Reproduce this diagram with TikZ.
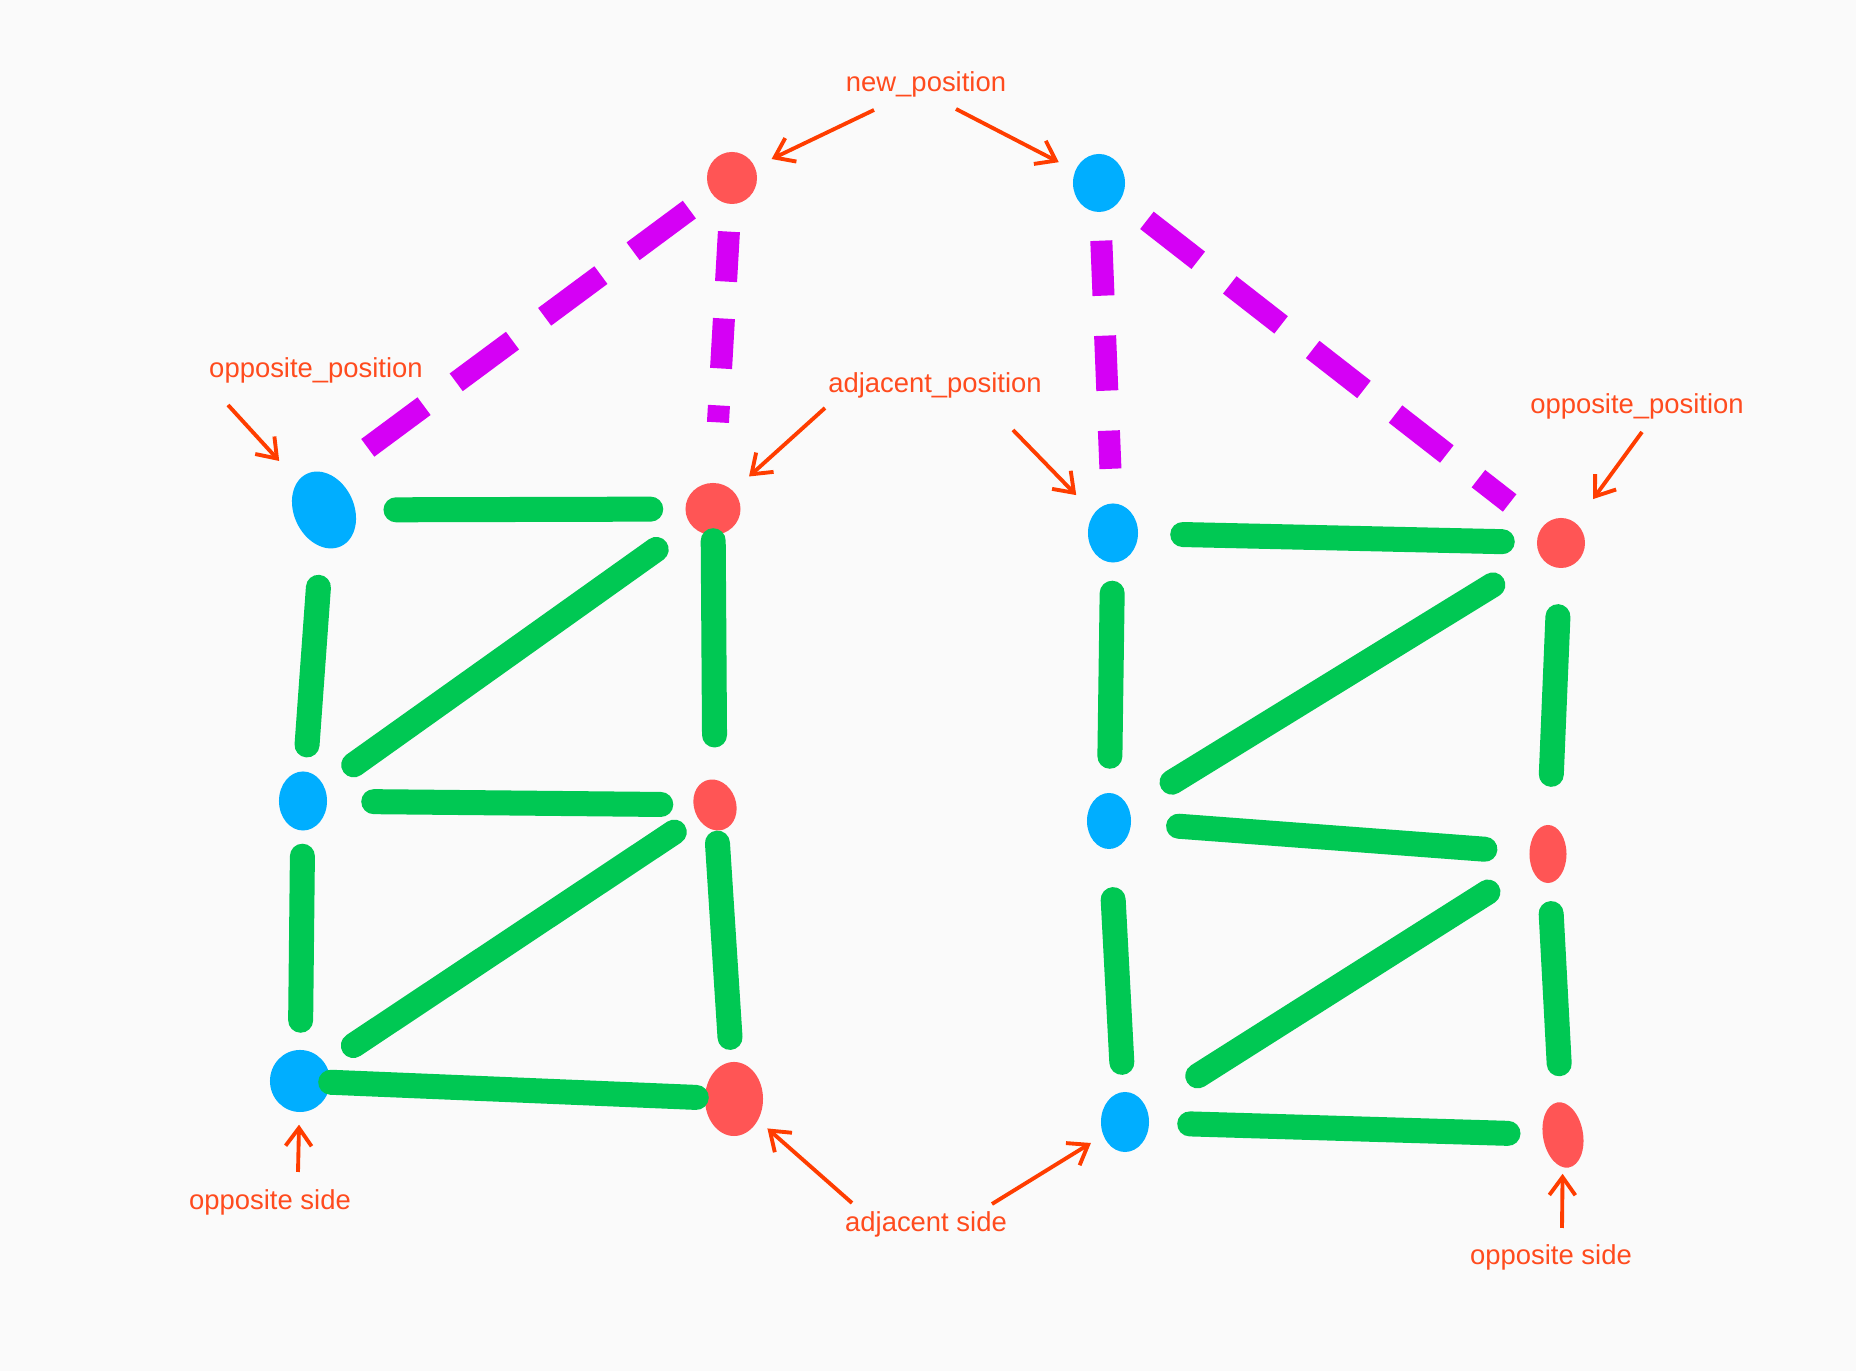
\documentclass[tikz,border=0pt]{standalone}
\usepackage{fontspec}
\setmainfont{Liberation Sans}
\usepackage{xcolor}
\usepackage{tikz}
\usetikzlibrary{arrows.meta, shapes.geometric}

\definecolor{paper}{RGB}{250,250,250}
\definecolor{dotred}{RGB}{255,85,85}
\definecolor{dotblue}{RGB}{0,174,255}
\definecolor{inkgreen}{RGB}{0,200,83}
\definecolor{inkmagenta}{RGB}{213,0,245}
\definecolor{pointred}{RGB}{255,61,0}
\definecolor{labelred}{RGB}{255,75,30}

\begin{document}
\begin{tikzpicture}[x=0.01cm, y=-0.01cm, >={Straight Barb[length=1.8mm, width=2.6mm]},
    spot/.style={ellipse, inner sep=0pt},
    red spot/.style={spot, fill=dotred},
    blue spot/.style={spot, fill=dotblue},
    link/.style={draw=inkgreen, line width=2.5mm, line cap=round},
    dashlink/.style={draw=inkmagenta, line width=2.2mm},
    pointer/.style={->, draw=pointred, line width=1.1pt},
    tag/.style={text=labelred, font=\fontsize{7.8}{9}\selectfont, inner sep=0pt}]
    \fill[paper] (0,0) rectangle (1856,1371);

    % left triangle stack
    \node[red spot, minimum width=5mm, minimum height=5.2mm] (lnew) at (732,178) {};
    \node[blue spot, minimum width=6mm, minimum height=8mm, rotate=25] (lb1) at (324,510) {};
    \node[red spot, minimum width=5.5mm, minimum height=5.2mm] (lr1) at (713,509) {};
    \node[blue spot, minimum width=4.8mm, minimum height=5.9mm] (lb2) at (303,801) {};
    \node[red spot, minimum width=4.2mm, minimum height=5.2mm, rotate=20] (lr2) at (715,805) {};
    \node[blue spot, minimum width=6mm, minimum height=6.2mm] (lb3) at (300,1081) {};
    \node[red spot, minimum width=5.8mm, minimum height=7.4mm] (lr3) at (734,1099) {};

    % right triangle stack
    \node[blue spot, minimum width=5.2mm, minimum height=5.8mm] (rnew) at (1099,183) {};
    \node[blue spot, minimum width=5mm, minimum height=5.9mm] (rb1) at (1113,533) {};
    \node[red spot, minimum width=4.8mm, minimum height=5mm] (rr1) at (1561,543) {};
    \node[blue spot, minimum width=4.4mm, minimum height=5.6mm] (rb2) at (1109,821) {};
    \node[red spot, minimum width=3.7mm, minimum height=5.8mm] (rr2) at (1548,854) {};
    \node[blue spot, minimum width=4.8mm, minimum height=6mm] (rb3) at (1125,1122) {};
    \node[red spot, minimum width=4mm, minimum height=6.6mm, rotate=10] (rr3) at (1563,1135) {};

    \draw[dashlink, dash pattern=on 7mm off 4mm, shorten <=2.7mm, shorten >=4mm] (lnew) -- (lb1.north east);
    \draw[dashlink, dash pattern=on 5mm off 3.7mm, shorten <=2.7mm, shorten >=6mm] (lnew) -- (lr1);
    \draw[dashlink, dash pattern=on 6.5mm off 4mm, shorten <=3.3mm, shorten >=4mm] (rnew) -- (rr1);
    \draw[dashlink, dash pattern=on 5.5mm off 4mm, shorten <=2.8mm, shorten >=3.4mm] (rnew) -- (rb1);

    \draw[link, shorten <=4mm, shorten >=3.4mm] (lb1) -- (lr1);
    \draw[link, shorten <=4.2mm, shorten >=3.6mm] (lr1) -- (lb2);
    \draw[link, shorten <=4mm, shorten >=2.6mm] (lb1) -- (lb2);
    \draw[link, shorten <=0.5mm, shorten >=4.4mm] (lr1) -- (lr2);
    \draw[link, shorten <=4.6mm, shorten >=3.2mm] (lb2) -- (lr2);
    \draw[link, shorten <=2.7mm, shorten >=3.3mm] (lr2) -- (lb3);
    \draw[link, shorten <=2.5mm, shorten >=2.9mm] (lb2) -- (lb3);
    \draw[link, shorten <=1.2mm, shorten >=2.4mm] (lr2) -- (lr3);
    \draw[link, shorten >=0.8mm] (lb3) -- (lr3);

    \draw[link, shorten <=4.4mm, shorten >=3.4mm] (rb1) -- (rr1);
    \draw[link, shorten <=4.8mm, shorten >=5mm] (rr1) -- (rr2);
    \draw[link, shorten <=5.5mm, shorten >=5mm] (rr1) -- (rb2);
    \draw[link, shorten <=3mm, shorten >=3.6mm] (rb1) -- (rb2);
    \draw[link, shorten <=4.7mm, shorten >=4.4mm] (rb2) -- (rr2);
    \draw[link, shorten <=5mm, shorten >=2.9mm] (rb2) -- (rb3);
    \draw[link, shorten <=5mm, shorten >=6mm] (rr2) -- (rb3);
    \draw[link, shorten <=3mm, shorten >=3.8mm] (rr2) -- (rr3);
    \draw[link, shorten <=4mm, shorten >=3.4mm] (rb3) -- (rr3);

    \node[tag] (newpos) at (926,84) {new\_position};
    \node[tag] (oppposl) at (316,370) {opposite\_position};
    \node[tag] (adjpos) at (935,385) {adjacent\_position};
    \node[tag] (oppposr) at (1637,406) {opposite\_position};
    \node[tag] (oppsidel) at (270,1202) {opposite side};
    \node[tag] (adjside) at (926,1224) {adjacent side};
    \node[tag] (oppsider) at (1551,1257) {opposite side};

    \coordinate (newpos-l) at (874,110);
    \coordinate (newpos-r) at (956,109);
    \coordinate (oppposl-s) at (228,405);
    \coordinate (adjpos-l) at (825,408);
    \coordinate (adjpos-r) at (1013,430);
    \coordinate (oppposr-s) at (1642,432);
    \coordinate (oppsidel-s) at (298,1172);
    \coordinate (adjside-l) at (852,1203);
    \coordinate (adjside-r) at (992,1204);
    \coordinate (oppsider-s) at (1562,1228);

    \draw[pointer, shorten >=1.8mm] (newpos-l) -- (lnew);
    \draw[pointer, shorten >=1.8mm] (newpos-r) -- (rnew);
    \draw[pointer, shorten >=2.7mm] (oppposl-s) -- (lb1);
    \draw[pointer, shorten >=2.1mm] (adjpos-l) -- (lr1);
    \draw[pointer, shorten >=2.5mm] (adjpos-r) -- (rb1);
    \draw[pointer, shorten >=2.9mm] (oppposr-s) -- (rr1);
    \draw[pointer, shorten >=1.2mm] (oppsidel-s) -- (lb3);
    \draw[pointer, shorten >=1.2mm] (adjside-l) -- (lr3);
    \draw[pointer, shorten >=1.4mm] (adjside-r) -- (rb3);
    \draw[pointer, shorten >=0.6mm] (oppsider-s) -- (rr3);
\end{tikzpicture}
\end{document}
